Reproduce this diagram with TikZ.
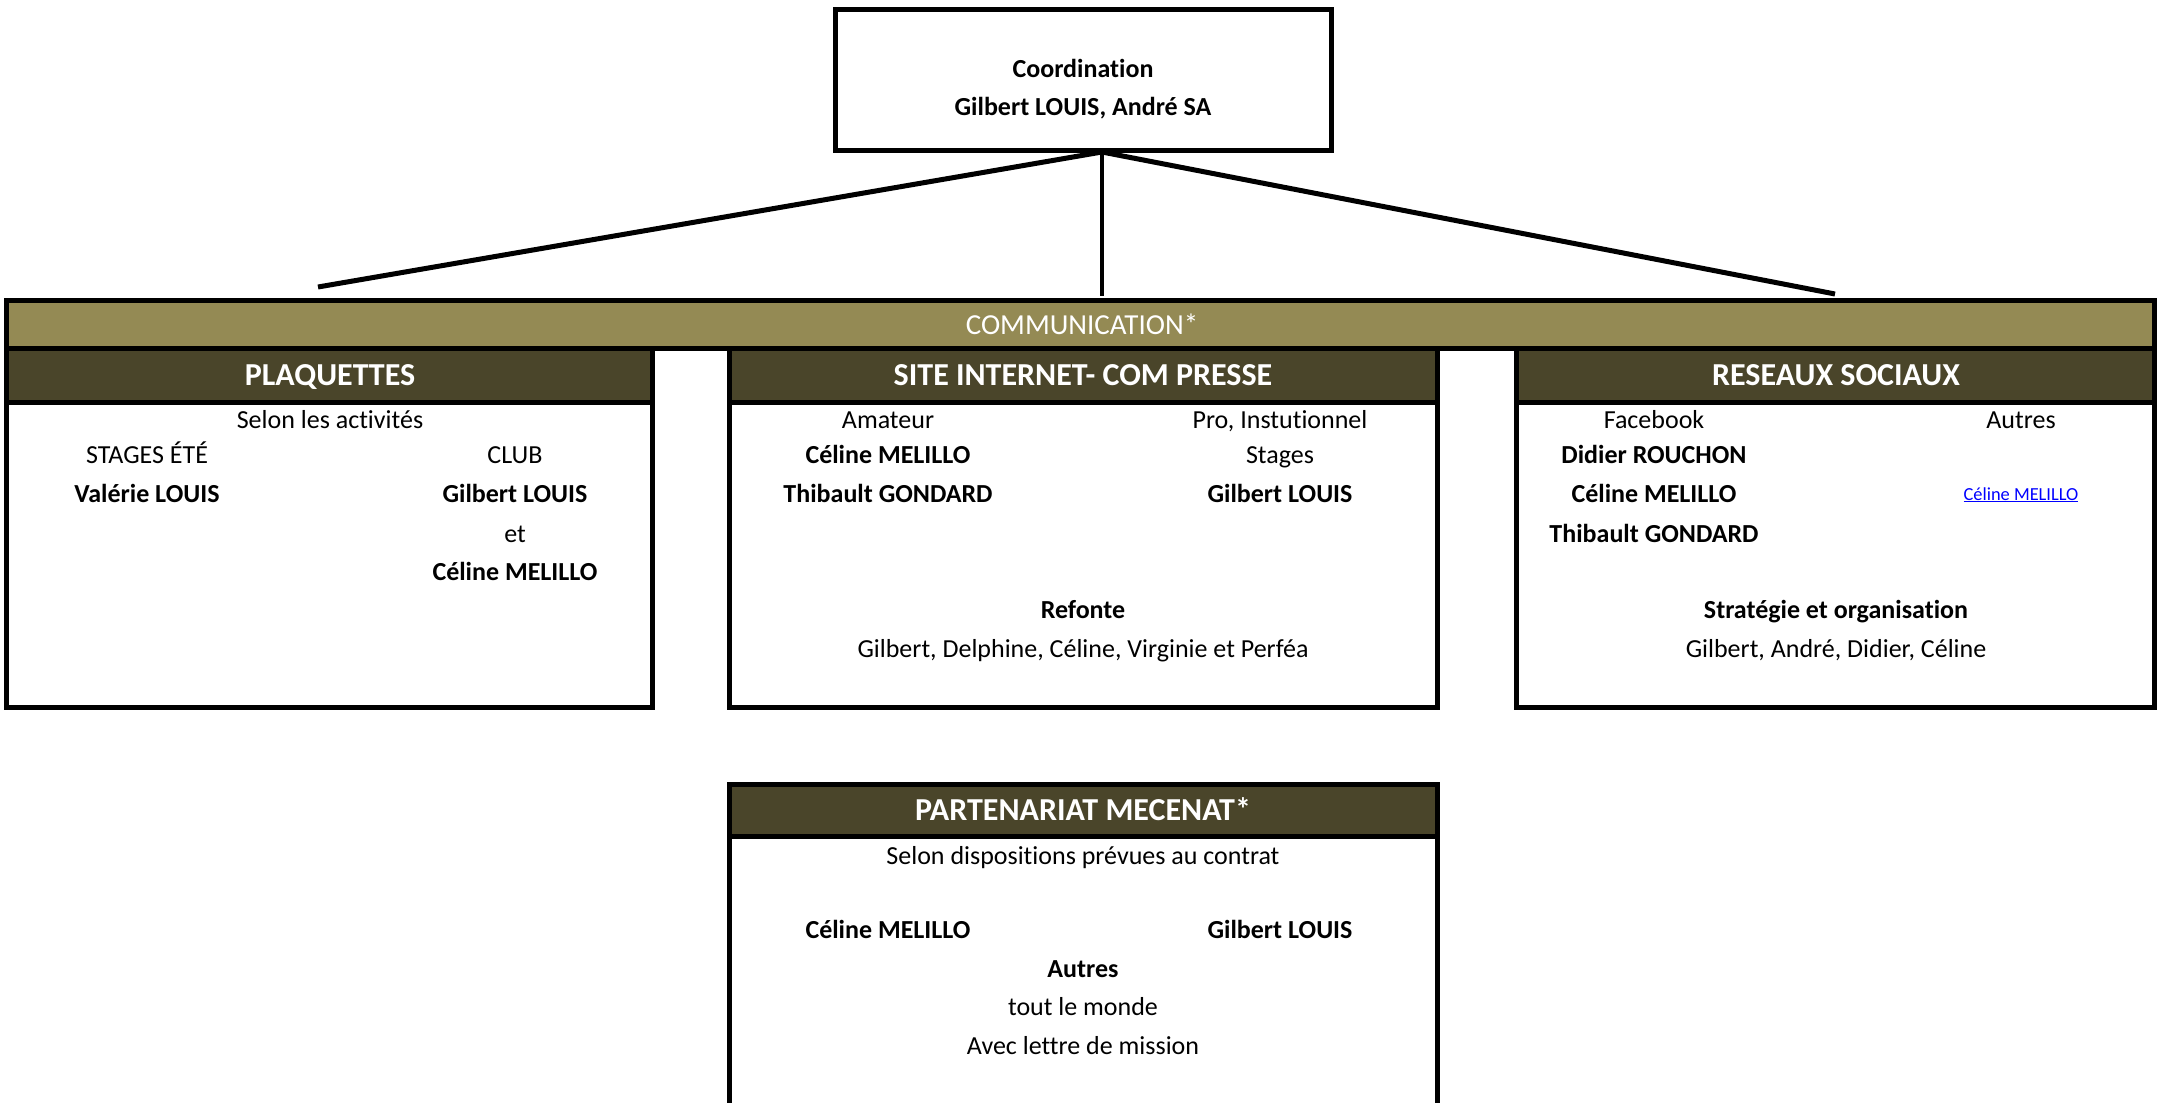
\documentclass[tikz,border=0pt]{standalone}
\usepackage{fontspec}
\setmainfont{Carlito}[Ligatures={NoCommon,NoContextual}]
\definecolor{olivebar}{HTML}{948A54}
\definecolor{hdrcol}{HTML}{4A452A}
\definecolor{linkblue}{HTML}{0000FF}
\tikzset{
  box/.style={draw, line width=5pt, fill=white, inner sep=0pt, outer sep=0pt},
  hdr/.style={draw, line width=5pt, fill=hdrcol, inner sep=0pt, outer sep=0pt},
  bar/.style={draw, line width=5pt, fill=olivebar, inner sep=0pt, outer sep=0pt},
  txt/.style={anchor=base, inner sep=0pt, font=\fontsize{26}{31}\selectfont},
  btxt/.style={anchor=base, inner sep=0pt, font=\fontsize{26}{31}\selectfont\bfseries},
  htxt/.style={anchor=base, inner sep=0pt, text=white, font=\fontsize{32}{38}\selectfont\bfseries},
  conn/.style={line width=5pt},
}
\begin{document}
\begin{tikzpicture}[x=1pt,y=-1pt]
\useasboundingbox (0,0) rectangle (2158,1103);
\clip (0,0) rectangle (2158,1103);
\fill[white] (0,0) rectangle (2158,1103);

% coordination box
\node[box, minimum width=496.5pt, minimum height=141pt] (coord) at (1083.25,79.5) {};
\node[btxt] (c1) at (1083,77) {Coordination};
\node[btxt] (c2) at (1083,115) {Gilbert LOUIS, André SA};

% connectors
\coordinate (apex) at (1102,152);
\coordinate (lend) at (318,287);
\coordinate (cend) at (1102,296);
\coordinate (rend) at (1835,294);
\draw[conn] (apex) -- (lend);
\draw[conn] (apex) -- (rend);
\draw[line width=4pt] (apex) -- (cend);

% PLAQUETTES
\node[box, minimum width=645.5pt, minimum height=359pt] (plaq) at (329.25,527.5) {};
\node[hdr, minimum width=645.5pt, minimum height=54pt] (plaqH) at (329.25,375) {};
\node[htxt] (plaqT) at (330,385) {PLAQUETTES};
\node[txt] (p1) at (330,428) {Selon les activités};
\node[txt] (p2) at (147,463) {STAGES ÉTÉ};
\node[txt] (p3) at (515,463) {CLUB};
\node[btxt] (p4) at (147,502) {Valérie LOUIS};
\node[btxt] (p5) at (515,502) {Gilbert LOUIS};
\node[txt] (p6) at (515,542) {et};
\node[btxt] (p7) at (515,580) {Céline MELILLO};

% SITE INTERNET
\node[box, minimum width=708pt, minimum height=359pt] (site) at (1083.5,527.5) {};
\node[hdr, minimum width=708pt, minimum height=54pt] (siteH) at (1083.5,375) {};
\node[htxt] (siteT) at (1083,385) {SITE INTERNET- COM PRESSE};
\node[txt] (s1) at (888,428) {Amateur};
\node[txt] (s2) at (1280,428) {Pro, Instutionnel};
\node[btxt] (s3) at (888,463) {Céline MELILLO};
\node[txt] (s4) at (1280,463) {Stages};
\node[btxt] (s5) at (888,502) {Thibault GONDARD};
\node[btxt] (s6) at (1280,502) {Gilbert LOUIS};
\node[btxt] (s7) at (1083,618) {Refonte};
\node[txt] (s8) at (1083,657) {Gilbert, Delphine, Céline, Virginie et Perféa};

% RESEAUX SOCIAUX
\node[box, minimum width=638pt, minimum height=359pt] (res) at (1835.5,527.5) {};
\node[hdr, minimum width=638pt, minimum height=54pt] (resH) at (1835.5,375) {};
\node[htxt] (resT) at (1836,385) {RESEAUX SOCIAUX};
\node[txt] (r1) at (1654,428) {Facebook};
\node[txt] (r2) at (2021,428) {Autres};
\node[btxt] (r3) at (1654,463) {Didier ROUCHON};
\node[btxt] (r4) at (1654,502) {Céline MELILLO};
\node[anchor=base, inner sep=0pt, text=linkblue, font=\fontsize{18.4}{22}\selectfont] (r5) at (2021,500) {\underline{Céline MELILLO}};
\node[btxt] (r6) at (1654,542) {Thibault GONDARD};
\node[btxt] (r7) at (1836,618) {Stratégie et organisation};
\node[txt] (r8) at (1836,657) {Gilbert, André, Didier, Céline};

% COMMUNICATION bar
\node[bar, minimum width=2148pt, minimum height=47.5pt] (comm) at (1080.5,324.25) {};
\node[anchor=base, inner sep=0pt, text=white, font=\fontsize{29}{34}\selectfont] (commT) at (1082,334) {COMMUNICATION*};

% PARTENARIAT MECENAT
\node[box, minimum width=708pt, minimum height=340pt] (part) at (1083.5,954.5) {};
\node[hdr, minimum width=708pt, minimum height=51.5pt] (partH) at (1083.5,810.25) {};
\node[htxt] (partT) at (1083,820) {PARTENARIAT MECENAT*};
\node[txt] (m1) at (1083,864) {Selon dispositions prévues au contrat};
\node[btxt] (m2) at (888,938) {Céline MELILLO};
\node[btxt] (m3) at (1280,938) {Gilbert LOUIS};
\node[btxt] (m4) at (1083,977) {Autres};
\node[txt] (m5) at (1083,1015) {tout le monde};
\node[txt] (m6) at (1083,1054) {Avec lettre de mission};
\end{tikzpicture}
\end{document}
